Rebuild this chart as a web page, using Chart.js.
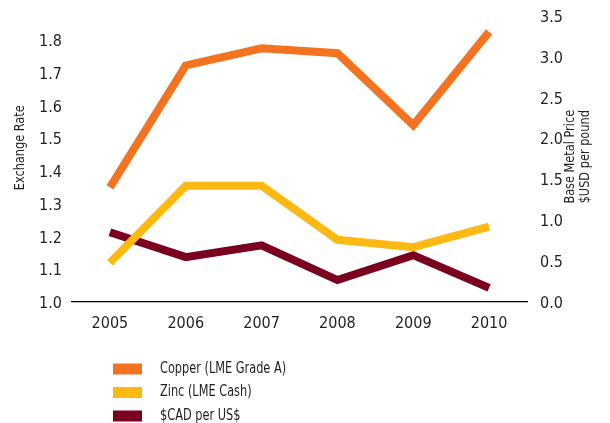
<!DOCTYPE html>
<html>
<head>
<meta charset="utf-8">
<title>Base metal prices and exchange rate</title>
<script src="https://cdn.jsdelivr.net/npm/chart.js@4.4.0/dist/chart.umd.min.js"></script>
<style>
  html, body { margin: 0; padding: 0; background: #fff; }
  canvas { display: block; }
</style>
</head>
<body>
<canvas id="metals-chart" width="610" height="423"></canvas>
<script>
// Yearly data
const years = ['2005', '2006', '2007', '2008', '2009', '2010'];
const copperPrice = [1.40, 2.89, 3.10, 3.04, 2.16, 3.30];   // $USD per pound
const zincPrice = [0.48, 1.42, 1.42, 0.76, 0.67, 0.92];     // $USD per pound
const cadPerUsd = [1.213, 1.137, 1.173, 1.067, 1.143, 1.043];

const seriesNames = ['Copper (LME Grade A)', 'Zinc (LME Cash)', '$CAD per US$'];
const seriesColors = ['#F37321', '#FDB913', '#7B0020'];

const rateTicks = [1.0, 1.1, 1.2, 1.3, 1.4, 1.5, 1.6, 1.7, 1.8];
const priceTicks = [0.0, 0.5, 1.0, 1.5, 2.0, 2.5, 3.0, 3.5];

const FONT = "'Liberation Sans Narrow', 'DejaVu Sans Condensed', 'Liberation Sans', sans-serif";
const TEXT = '#231F20';

// draw text squeezed horizontally (narrow face)
function narrowText(ctx, text, x, y, squeeze) {
    ctx.save();
    ctx.translate(x, y);
    ctx.scale(squeeze, 1);
    ctx.fillText(text, 0, 0);
    ctx.restore();
}

// fixed axis widths, no extra label padding above/below
function fitWidth(width) {
    return scale => {
        scale.width = width;
        scale.paddingTop = 0;
        scale.paddingBottom = 0;
    };
}

// Rotated axis titles and the stacked legend underneath
const extrasPlugin = {
    id: 'extras',
    afterDraw(chart) {
        const ctx = chart.ctx;
        const area = chart.chartArea;
        const midY = (area.top + area.bottom) / 2;

        ctx.save();
        ctx.fillStyle = TEXT;
        ctx.font = '14px ' + FONT;
        ctx.textAlign = 'center';
        ctx.textBaseline = 'middle';

        // left title
        ctx.save();
        ctx.translate(20, midY - 11);
        ctx.rotate(-Math.PI / 2);
        narrowText(ctx, 'Exchange Rate', 0, 0, 0.9);
        ctx.restore();

        // right title, two lines
        ctx.save();
        ctx.translate(570, midY - 2);
        ctx.rotate(-Math.PI / 2);
        narrowText(ctx, 'Base Metal Price', 0, 0, 0.9);
        narrowText(ctx, '$USD per pound', 0, 15, 0.9);
        ctx.restore();

        // legend
        ctx.font = '15px ' + FONT;
        ctx.textAlign = 'left';
        chart.data.datasets.forEach((ds, i) => {
            const y = 369 + i * 23.5;
            ctx.fillStyle = ds.borderColor;
            ctx.fillRect(113, y - 5.5, 29, 11);
            ctx.fillStyle = TEXT;
            narrowText(ctx, ds.label, 160, y, 0.84);
        });
        ctx.restore();
    }
};

const ctx = document.getElementById('metals-chart').getContext('2d');

new Chart(ctx, {
    type: 'line',
    data: {
        labels: years,
        datasets: [
            { label: seriesNames[0], data: copperPrice, yAxisID: 'price', borderColor: seriesColors[0] },
            { label: seriesNames[1], data: zincPrice, yAxisID: 'price', borderColor: seriesColors[1] },
            { label: seriesNames[2], data: cadPerUsd, yAxisID: 'rate', borderColor: seriesColors[2] }
        ].map(ds => Object.assign(ds, {
            borderWidth: 8,
            borderCapStyle: 'butt',
            borderJoinStyle: 'miter',
            pointRadius: 0,
            pointHoverRadius: 0,
            tension: 0,
            fill: false
        }))
    },
    options: {
        responsive: false,
        animation: false,
        layout: { padding: { top: 15.5, left: 0, right: 0, bottom: 0 } },
        plugins: {
            legend: { display: false },
            tooltip: { enabled: false }
        },
        scales: {
            x: {
                offset: true,
                grid: { display: false, drawTicks: false },
                border: { display: true, color: '#000', width: 1.2 },
                ticks: { color: TEXT, font: { family: FONT, size: 16 }, padding: 12 },
                afterFit(scale) { scale.height = 121; }
            },
            rate: {
                position: 'left',
                min: 1.0,
                max: 1.875,
                grid: { display: false, drawTicks: false },
                border: { display: false },
                afterBuildTicks(scale) { scale.ticks = rateTicks.map(v => ({ value: v })); },
                ticks: {
                    color: TEXT,
                    font: { family: FONT, size: 16 },
                    padding: 10,
                    labelOffset: 2,
                    callback: v => v.toFixed(1)
                },
                afterFit: fitWidth(72)
            },
            price: {
                position: 'right',
                min: 0,
                max: 3.5,
                grid: { display: false, drawTicks: false },
                border: { display: false },
                afterBuildTicks(scale) { scale.ticks = priceTicks.map(v => ({ value: v })); },
                ticks: {
                    color: TEXT,
                    font: { family: FONT, size: 16 },
                    padding: 13,
                    labelOffset: 2,
                    callback: v => v.toFixed(1)
                },
                afterFit: fitWidth(83)
            }
        }
    },
    plugins: [extrasPlugin]
});
</script>
</body>
</html>
